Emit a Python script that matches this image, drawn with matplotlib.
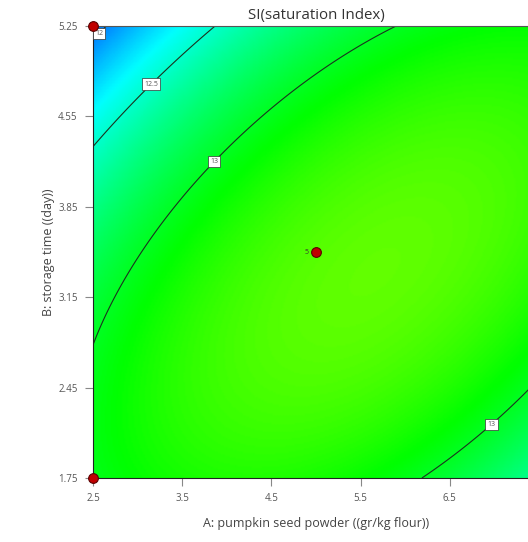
import numpy as np
import matplotlib.pyplot as plt
from matplotlib.colors import LinearSegmentedColormap

plt.rcParams['font.family'] = ['Open Sans', 'DejaVu Sans']

# quadratic model in coded units
# SI = b0 + bA*A + bB*B + bAB*A*B + bAA*A^2 + bBB*B^2
b0, bA, bB, bAB, bAA, bBB = 13.3503, 0.2010, -0.1644, 0.3856, -0.3153, -0.3559

x_lo, x_hi = 2.5, 7.5
y_lo, y_hi = 1.75, 5.25
x_ticks = [2.5, 3.5, 4.5, 5.5, 6.5]
y_ticks = [1.75, 2.45, 3.15, 3.85, 4.55, 5.25]

levels = [12, 12.5, 13]
label_pos = [(2.6, 5.17), (3.17, 4.79), (3.9, 4.17), (6.96, 2.17)]

# design points
pts_x = [2.5, 2.5, 5.0]
pts_y = [5.25, 1.75, 3.5]


def si_model(x, y):
    a = (x - 5.0) / 2.5
    b = (y - 3.5) / 1.75
    return b0 + bA * a + bB * b + bAB * a * b + bAA * a**2 + bBB * b**2


xx, yy = np.meshgrid(np.linspace(x_lo, x_hi, 300), np.linspace(y_lo, y_hi, 300))
zz = si_model(xx, yy)

cmap = LinearSegmentedColormap.from_list(
    'dx', ['#0000ff', '#00ffff', '#00ff00', '#ffff00', '#ff0000'])

fig = plt.figure(figsize=(5.28, 5.42), dpi=100)
ax = fig.add_axes([93 / 528, 64 / 542, 446 / 528, 452 / 542])

ax.pcolormesh(xx, yy, zz, cmap=cmap, vmin=11.6, vmax=14.6, shading='gouraud')
cs = ax.contour(xx, yy, zz, levels=levels, colors='#1a331e', linewidths=0.8)
lbls = ax.clabel(cs, fmt={12: '12', 12.5: '12.5', 13: '13'}, manual=label_pos,
                 inline=True, inline_spacing=1, fontsize=5)
for t in lbls:
    t.set_rotation(0)
    t.set_bbox(dict(boxstyle='square,pad=0.3', fc='white', ec='#333333', lw=0.5))
    t.set_color('#555555')

ax.plot(pts_x, pts_y, 'o', ms=7, mfc='#c00000', mec='#5a0000', mew=0.8,
        clip_on=False, zorder=5)
ax.text(4.92, 3.5, '5', fontsize=5, ha='right', va='center', color='#333333')

ax.set_xlim(x_lo, x_hi)
ax.set_ylim(y_lo, y_hi)
ax.set_xticks(x_ticks)
ax.set_yticks(y_ticks)
ax.set_xticklabels([f'{v:g}' for v in x_ticks])
ax.set_yticklabels([f'{v:.2f}' for v in y_ticks])
ax.tick_params(direction='out', length=6, width=0.8, color='#888888',
               labelsize=7, labelcolor='#555555', pad=5)
ax.spines['top'].set_color('#555555')
ax.spines['right'].set_color('#555555')
ax.spines['left'].set_color('#222222')
ax.spines['bottom'].set_color('#222222')
for s in ax.spines.values():
    s.set_linewidth(0.8)

ax.set_title('SI(saturation Index)', fontsize=10.8, color='#333333', pad=5)
ax.set_xlabel('A: pumpkin seed powder ((gr/kg flour))', fontsize=9,
              color='#444444', labelpad=9)
ax.set_ylabel('B: storage time ((day))', fontsize=9, color='#444444',
              labelpad=2)

fig.savefig('out.png', dpi=100)
